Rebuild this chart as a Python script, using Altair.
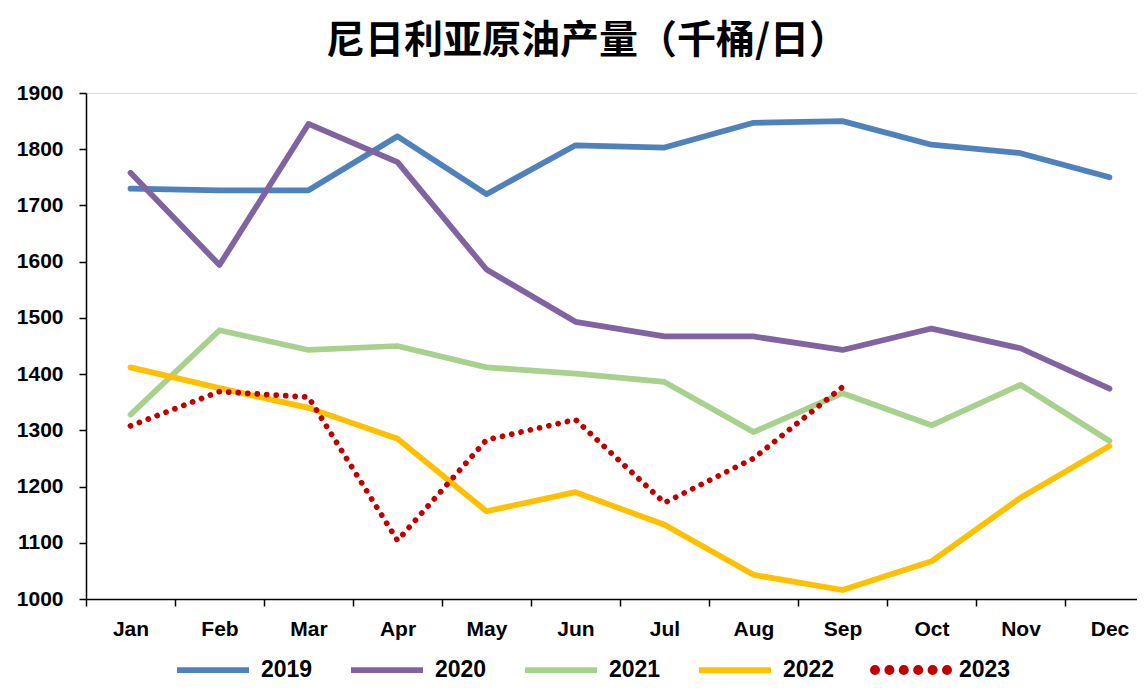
import altair as alt
import pandas as pd

months = ["Jan", "Feb", "Mar", "Apr", "May", "Jun", "Jul", "Aug", "Sep", "Oct", "Nov", "Dec"]
years = ["2019", "2020", "2021", "2022", "2023"]

v2019 = [1730, 1727, 1727, 1823, 1720, 1807, 1803, 1847, 1850, 1808, 1793, 1750]
v2020 = [1758, 1594, 1845, 1777, 1586, 1493, 1467, 1467, 1443, 1481, 1446, 1374]
v2021 = [1328, 1478, 1443, 1450, 1412, 1401, 1386, 1297, 1366, 1309, 1381, 1281]
v2022 = [1412, 1375, 1340, 1285, 1156, 1190, 1132, 1043, 1016, 1067, 1180, 1272]
v2023 = [1308, 1369, 1359, 1104, 1283, 1319, 1171, 1250, 1377]

colors = ["#4F81BD", "#8064A2", "#A9D18E", "#FFC000", "#C00000"]

rows = []
for y, vals in zip(years, [v2019, v2020, v2021, v2022, v2023]):
    for m, v in zip(months, vals):
        rows.append({"month": m, "year": y, "value": v})
df = pd.DataFrame(rows)

LW = 5.75
common_leg = dict(title=None, orient="none", direction="horizontal",
                  symbolSize=5184, symbolStrokeWidth=LW, labelFont="Liberation Sans",
                  labelFontWeight="bold", labelFontSize=23, labelColor="black",
                  labelOffset=9, columnPadding=26, legendY=538)

# dotted legend symbol: row of small filled circles
dots = "".join(
    "M{:.3f},0a0.06,0.06 0 1,0 0.12,0a0.06,0.06 0 1,0 -0.12,0Z".format(x - 0.06)
    for x in [-1.0, -0.6, -0.2, 0.2, 0.6, 1.0]
)

base = alt.Chart(df).encode(
    x=alt.X("month:N", sort=months, title=None,
            scale=alt.Scale(type="band", paddingInner=0, paddingOuter=0),
            axis=alt.Axis(tickBand="extent", labelAngle=0, domainColor="black", tickColor="black",
                          domainWidth=1.5, tickWidth=1.5, tickSize=7, labelPadding=12,
                          labelFont="Liberation Sans", labelFontWeight="bold", labelFontSize=21,
                          labelColor="black", grid=False)),
    y=alt.Y("value:Q", title=None,
            scale=alt.Scale(domain=[1000, 1900], nice=False, zero=False),
            axis=alt.Axis(values=list(range(1000, 2000, 100)), format="d", domainColor="black",
                          tickColor="black", domainWidth=1.5, tickWidth=1.5, tickSize=7, labelPadding=16,
                          labelFont="Liberation Sans", labelFontWeight="bold", labelFontSize=21,
                          labelColor="black", grid=False)),
)

solid = base.transform_filter(
    alt.FieldOneOfPredicate(field="year", oneOf=years[:4])
).mark_line(strokeWidth=LW, strokeCap="round", strokeJoin="round").encode(
    color=alt.Color("year:N", sort=years[:4], scale=alt.Scale(domain=years[:4], range=colors[:4]),
                    legend=alt.Legend(columns=4, legendX=88, symbolType="stroke", **common_leg)),
)

dotted = base.transform_filter(
    alt.FieldEqualPredicate(field="year", equal="2023")
).mark_line(strokeWidth=LW, strokeCap="round", strokeDash=[0.01, 9.5]).encode(
    color=alt.Color("year:N", scale=alt.Scale(domain=years[4:], range=colors[4:]),
                    legend=alt.Legend(columns=1, legendX=786, symbolType=dots,
                                      symbolFillColor=colors[4], **common_leg)),
)

chart = alt.layer(solid, dotted).resolve_scale(color="independent").properties(
    width=1068,
    height=506,
    title=alt.TitleParams("尼日利亚原油产量（千桶/日）", font="Noto Sans CJK SC", fontSize=39,
                          fontWeight="bold", color="black", anchor="middle", frame="group",
                          dx=-33, offset=21),
    autosize=alt.AutoSizeParams(type="none"),
    padding={"left": 78, "top": 85, "right": -17, "bottom": 88},
).configure_view(stroke=None).configure(background="white")

chart.save("out.html", embed_options={"renderer": "svg", "actions": False})
